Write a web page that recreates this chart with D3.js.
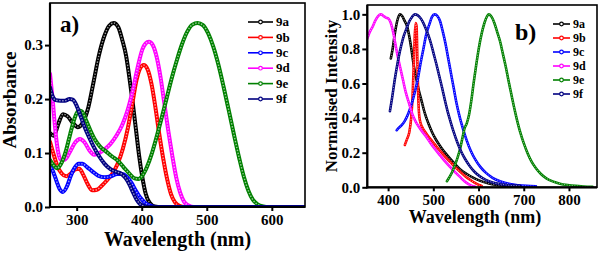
<!DOCTYPE html>
<html><head><meta charset="utf-8">
<script src="https://cdn.jsdelivr.net/npm/d3@7"></script>
<style>
html,body{margin:0;padding:0;background:#fff;}
svg{display:block;}
text{font-family:"Liberation Serif","Times New Roman",serif;font-weight:bold;fill:#000;}
</style></head>
<body>
<svg id="chart" width="600" height="255"></svg>
<script>
// ---------- DATA ----------
const seriesNames = ["9a","9b","9c","9d","9e","9f"];
const seriesColors = ["#000000","#ff0000","#0000ff","#ff00ff","#008000","#000080"];

// Panel a: absorbance [wavelength nm, absorbance]
const abs9a = [[259,0.137],[265,0.132],[272,0.155],[279,0.172],[286,0.168],[294,0.156],[302,0.148],[310,0.158],[318,0.185],[326,0.232],[334,0.28],[342,0.315],[350,0.336],[357,0.341],[364,0.333],[370,0.31],[376,0.28],[381,0.24],[386,0.195],[391,0.145],[396,0.095],[401,0.055],[406,0.025],[412,0.008],[420,0.001],[430,0],[651,0]];
const abs9b = [[259,0.121],[264,0.1],[270,0.077],[277,0.062],[284,0.057],[291,0.062],[298,0.07],[304,0.071],[310,0.06],[317,0.042],[324,0.031],[331,0.032],[339,0.04],[347,0.05],[355,0.062],[363,0.08],[371,0.108],[379,0.148],[386,0.195],[392,0.235],[398,0.258],[403,0.263],[409,0.255],[415,0.228],[421,0.185],[427,0.135],[433,0.09],[439,0.052],[445,0.024],[451,0.009],[458,0.002],[466,0],[651,0]];
const abs9c = [[259,0.078],[264,0.065],[269,0.048],[274,0.033],[279,0.028],[285,0.038],[291,0.058],[297,0.073],[303,0.08],[309,0.08],[316,0.074],[324,0.066],[333,0.058],[343,0.055],[353,0.057],[362,0.061],[370,0.061],[377,0.056],[384,0.045],[391,0.03],[398,0.017],[405,0.008],[412,0.003],[420,0],[651,0]];
const abs9d = [[259,0.247],[263,0.2],[267,0.145],[271,0.105],[276,0.087],[282,0.088],[290,0.103],[298,0.12],[305,0.126],[312,0.12],[319,0.106],[327,0.097],[335,0.1],[343,0.107],[352,0.117],[361,0.132],[370,0.152],[378,0.178],[386,0.215],[394,0.26],[401,0.292],[406,0.303],[411,0.306],[417,0.3],[423,0.278],[429,0.24],[435,0.19],[441,0.14],[447,0.095],[453,0.055],[459,0.027],[465,0.01],[472,0.003],[480,0],[651,0]];
const abs9e = [[259,0.087],[264,0.078],[270,0.072],[276,0.08],[283,0.102],[290,0.135],[297,0.165],[303,0.179],[308,0.177],[314,0.162],[321,0.142],[328,0.125],[336,0.112],[345,0.103],[354,0.094],[363,0.086],[372,0.074],[381,0.062],[389,0.053],[395,0.052],[401,0.058],[408,0.074],[415,0.097],[422,0.126],[430,0.162],[438,0.2],[446,0.238],[454,0.272],[462,0.302],[470,0.325],[478,0.338],[486,0.341],[494,0.337],[502,0.322],[510,0.297],[518,0.263],[526,0.222],[534,0.178],[542,0.133],[550,0.09],[557,0.056],[564,0.03],[571,0.013],[578,0.005],[587,0.001],[595,0],[651,0]];
const abs9f = [[259,0.222],[263,0.205],[268,0.198],[275,0.197],[282,0.197],[289,0.2],[294,0.199],[299,0.19],[305,0.172],[311,0.152],[318,0.132],[326,0.112],[334,0.095],[343,0.08],[352,0.07],[361,0.065],[368,0.062],[375,0.054],[381,0.042],[387,0.026],[392,0.014],[397,0.006],[403,0.002],[410,0],[651,0]];

// Panel b: normalised emission [wavelength nm, intensity]
const em9a = [[406,0.745],[410,0.8],[415,0.89],[420,0.96],[426,1.0],[431,0.99],[436,0.965],[442,0.93],[447,0.87],[452,0.79],[457,0.7],[463,0.62],[468,0.56],[474,0.5],[481,0.43],[489,0.37],[497,0.32],[506,0.275],[516,0.235],[529,0.19],[544,0.145],[559,0.105],[574,0.077],[589,0.054],[604,0.037],[621,0.023],[641,0.013],[667,0.007],[700,0.004]];
const em9b = [[437,0.245],[442,0.28],[447,0.32],[451,0.4],[454,0.52],[457,0.72],[459,0.88],[461,0.95],[463,0.93],[465,0.7],[467,0.5],[469,0.41],[472,0.37],[477,0.34],[482,0.32],[490,0.29],[498,0.265],[507,0.235],[517,0.205],[527,0.175],[538,0.145],[549,0.115],[560,0.088],[571,0.063],[582,0.042],[592,0.025],[601,0.013],[607,0.008]];
const em9c = [[419,0.33],[424,0.345],[430,0.36],[436,0.38],[442,0.41],[448,0.45],[454,0.5],[460,0.56],[466,0.63],[472,0.72],[478,0.8],[484,0.88],[491,0.94],[497,0.985],[503,1.0],[509,0.99],[515,0.96],[521,0.9],[527,0.83],[533,0.745],[539,0.66],[545,0.575],[551,0.49],[558,0.41],[566,0.335],[574,0.27],[583,0.21],[593,0.16],[604,0.118],[616,0.085],[631,0.055],[649,0.034],[667,0.02],[687,0.012],[706,0.008],[727,0.006]];
const em9d = [[354,0.86],[359,0.895],[366,0.93],[372,0.965],[378,0.99],[384,1.0],[390,0.99],[396,0.98],[401,0.975],[406,0.95],[411,0.9],[416,0.83],[421,0.76],[427,0.69],[433,0.62],[439,0.55],[447,0.48],[454,0.42],[461,0.38],[468,0.35],[476,0.32],[485,0.29],[494,0.255],[504,0.22],[515,0.185],[526,0.15],[537,0.118],[548,0.088],[559,0.06],[569,0.035],[578,0.018],[586,0.008],[592,0.004]];
const em9e = [[530,0.035],[536,0.06],[542,0.09],[548,0.13],[554,0.175],[559,0.22],[564,0.28],[569,0.34],[574,0.37],[579,0.42],[584,0.5],[589,0.6],[595,0.71],[601,0.81],[607,0.89],[613,0.95],[619,0.99],[623,1.0],[629,0.985],[635,0.95],[641,0.9],[648,0.84],[654,0.77],[660,0.7],[666,0.62],[672,0.545],[678,0.47],[685,0.39],[692,0.32],[700,0.255],[708,0.2],[717,0.15],[727,0.11],[738,0.077],[750,0.052],[764,0.034],[780,0.021],[797,0.013],[814,0.008],[832,0.005],[852,0.003]];
const em9f = [[404,0.44],[409,0.52],[414,0.61],[419,0.69],[424,0.76],[429,0.82],[434,0.87],[441,0.92],[447,0.96],[453,0.985],[459,1.0],[465,0.995],[471,0.98],[477,0.955],[483,0.92],[489,0.88],[495,0.83],[501,0.77],[507,0.71],[513,0.645],[519,0.58],[525,0.51],[531,0.445],[538,0.38],[545,0.32],[553,0.26],[561,0.21],[570,0.165],[580,0.125],[591,0.09],[603,0.063],[616,0.043],[631,0.028],[649,0.018],[667,0.012],[692,0.008]];

const absSeries = [abs9a, abs9b, abs9c, abs9d, abs9e, abs9f];
const emSeries = [em9a, em9b, em9c, em9d, em9e, em9f];

const absXTicks = [300, 400, 500, 600];
const absYTicks = [0.0, 0.1, 0.2, 0.3];
const emXTicks = [400, 500, 600, 700, 800];
const emYTicks = [0.0, 0.2, 0.4, 0.6, 0.8, 1.0];

// ---------- DRAW ----------
const svg = d3.select("#chart");

function drawPanel(cfg) {
  const g = svg.append("g");
  const x = d3.scaleLinear().domain(cfg.xDomain).range([cfg.left, cfg.right]);
  const y = d3.scaleLinear().domain(cfg.yDomain).range([cfg.bottom, cfg.top]);
  const clipId = "clip-" + cfg.id;
  svg.append("clipPath").attr("id", clipId).append("rect")
    .attr("x", cfg.left).attr("y", cfg.top)
    .attr("width", cfg.right - cfg.left).attr("height", cfg.bottom - cfg.top);

  const line = d3.line().x(d => x(d[0])).y(d => y(d[1])).curve(d3.curveMonotoneX);
  const curves = g.append("g").attr("clip-path", `url(#${clipId})`);
  cfg.series.forEach((s, i) => {
    const c = seriesColors[i];
    curves.append("path").attr("d", line(s)).attr("fill", "none")
      .attr("stroke", c).attr("stroke-width", cfg.lw)
      .attr("stroke-linejoin", "round").attr("stroke-linecap", "round");
    curves.append("path").attr("d", line(s)).attr("fill", "none")
      .attr("stroke", d3.interpolateRgb(c, "#ffffff")(0.6)).attr("stroke-width", cfg.lw * 0.35)
      .attr("stroke-dasharray", cfg.dash);
  });

  // axes
  const xAxis = d3.axisBottom(x).tickValues(cfg.xTicks).tickSize(4).tickPadding(3).tickFormat(d3.format("d"));
  const yAxis = d3.axisLeft(y).tickValues(cfg.yTicks).tickSize(5).tickPadding(2).tickFormat(d3.format(".1f"));
  const gx = g.append("g").attr("transform", `translate(0,${cfg.bottom})`).call(xAxis);
  const gy = g.append("g").attr("transform", `translate(${cfg.left},0)`).call(yAxis);
  [gx, gy].forEach(a => {
    a.select(".domain").remove();
    a.selectAll(".tick line").attr("stroke", "#000").attr("stroke-width", 2);
    a.selectAll(".tick text").style("font-size", cfg.tickFont + "px")
      .style("font-family", '"Liberation Serif","Times New Roman",serif').style("font-weight", "bold");
  });
  // frame
  g.append("rect").attr("x", cfg.left).attr("y", cfg.top)
    .attr("width", cfg.right - cfg.left).attr("height", cfg.bottom - cfg.top)
    .attr("fill", "none").attr("stroke", "#000").attr("stroke-width", 1.6);
  g.append("line").attr("x1", cfg.left).attr("x2", cfg.left).attr("y1", cfg.top).attr("y2", cfg.bottom + 1)
    .attr("stroke", "#000").attr("stroke-width", 2.2);
  g.append("line").attr("x1", cfg.left - 1).attr("x2", cfg.right).attr("y1", cfg.bottom).attr("y2", cfg.bottom)
    .attr("stroke", "#000").attr("stroke-width", 2.2);

  // titles
  g.append("text").attr("x", cfg.xTitleX).attr("y", cfg.xTitleY).attr("text-anchor", "middle")
    .style("font-size", cfg.xTitleFont + "px").text("Wavelength (nm)");
  g.append("text").attr("transform", `translate(${cfg.yTitleX},${cfg.yTitleY}) rotate(-90)`)
    .attr("text-anchor", "middle").style("font-size", cfg.yTitleFont + "px").text(cfg.yTitle);
  g.append("text").attr("x", cfg.tagX).attr("y", cfg.tagY)
    .style("font-size", cfg.tagFont + "px").text(cfg.tag);

  // legend
  const lg = g.append("g");
  seriesNames.forEach((n, i) => {
    const yy = cfg.legY + i * cfg.legDy;
    lg.append("line").attr("x1", cfg.legX).attr("x2", cfg.legX + cfg.legLen)
      .attr("y1", yy).attr("y2", yy).attr("stroke", seriesColors[i]).attr("stroke-width", 1.6);
    lg.append("circle").attr("cx", cfg.legX + cfg.legLen / 2).attr("cy", yy).attr("r", 1.8)
      .attr("fill", "#fff").attr("stroke", seriesColors[i]).attr("stroke-width", 1.2);
    lg.append("text").attr("x", cfg.legX + cfg.legLen + 3).attr("y", yy + cfg.legFont * 0.33)
      .style("font-size", cfg.legFont + "px").text(n);
  });
}

drawPanel({
  id: "a", series: absSeries,
  xDomain: [259, 651], yDomain: [0, 0.378],
  left: 50, right: 305, top: 3, bottom: 207,
  xTicks: absXTicks, yTicks: absYTicks, tickFont: 15,
  lw: 4, dash: "1.4 1.6",
  xTitleX: 177.5, xTitleY: 246, xTitleFont: 20,
  yTitle: "Absorbance", yTitleX: 16, yTitleY: 100, yTitleFont: 19,
  tag: "a)", tagX: 60, tagY: 32, tagFont: 23,
  legX: 248, legY: 22, legDy: 15.4, legLen: 25, legFont: 13
});

drawPanel({
  id: "b", series: emSeries,
  xDomain: [354, 862], yDomain: [0, 1.054],
  left: 367.3, right: 597, top: 5, bottom: 187.3,
  xTicks: emXTicks, yTicks: emYTicks, tickFont: 15,
  lw: 2.6, dash: "1.2 1.4",
  xTitleX: 475, xTitleY: 223, xTitleFont: 18,
  yTitle: "Normalised Intensity", yTitleX: 337, yTitleY: 96, yTitleFont: 17,
  tag: "b)", tagX: 515, tagY: 40, tagFont: 24,
  legX: 553, legY: 24, legDy: 14, legLen: 17, legFont: 12
});
</script>
</body></html>
